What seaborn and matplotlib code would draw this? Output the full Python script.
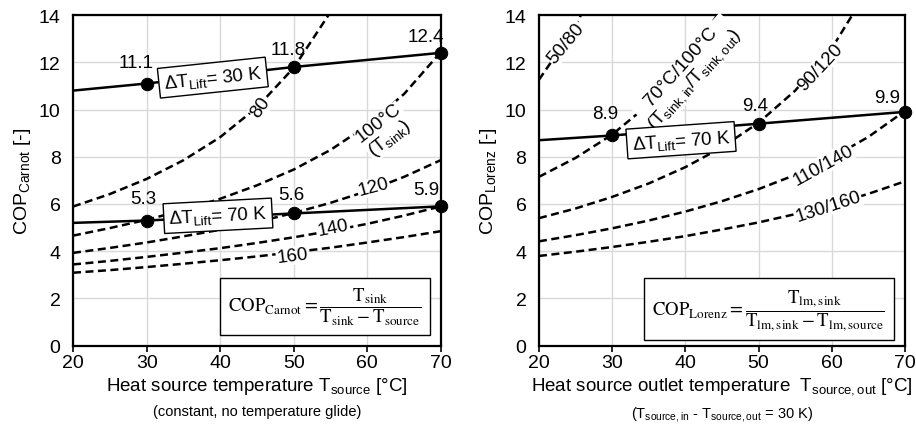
import matplotlib
matplotlib.use("Agg")
import matplotlib.pyplot as plt
import numpy as np
import pandas as pd
import seaborn as sns

# ---------------- data ----------------
x_grid = [20, 25, 30, 35, 40, 45, 50, 55, 60, 65, 70]

# Left panel: Carnot COP vs. heat source temperature, per sink temperature
carnot_80 = [5.89, 6.42, 7.06, 7.85, 8.83, 10.09, 11.77, 14.13]
carnot_100 = [4.66, 4.98, 5.33, 5.74, 6.22, 6.79, 7.46, 8.29, 9.33, 10.66, 12.44]
carnot_120 = [3.93, 4.14, 4.37, 4.63, 4.91, 5.24, 5.62, 6.05, 6.55, 7.15, 7.86]
carnot_140 = [3.44, 3.59, 3.76, 3.94, 4.13, 4.35, 4.59, 4.86, 5.16, 5.51, 5.90]
carnot_160 = [3.09, 3.20, 3.33, 3.47, 3.62, 3.78, 3.96, 4.15, 4.37, 4.60, 4.85]

lift_x = [20, 30, 50, 70]
carnot_lift30 = [10.8, 11.1, 11.8, 12.4]
carnot_lift70 = [5.2, 5.3, 5.6, 5.9]

# Right panel: Lorenz COP vs. heat source outlet temperature
lorenz_50_80 = [11.26, 13.51, 16.9]
lorenz_70_100 = [7.15, 7.95, 8.94, 10.22, 11.93, 14.31]
lorenz_90_120 = [5.40, 5.81, 6.30, 6.87, 7.56, 8.40, 9.44, 10.80, 12.59, 15.11]
lorenz_110_140 = [4.42, 4.68, 4.97, 5.30, 5.68, 6.12, 6.63, 7.23, 7.96, 8.84, 9.94]
lorenz_130_160 = [3.80, 3.98, 4.18, 4.40, 4.64, 4.92, 5.22, 5.57, 5.97, 6.43, 6.96]
lorenz_lift70 = [8.7, 8.9, 9.4, 9.9]

marker_x = [30, 50, 70]
carnot_marks30 = [11.1, 11.8, 12.4]
carnot_marks70 = [5.3, 5.6, 5.9]
lorenz_marks70 = [8.9, 9.4, 9.9]

x_ticks = [20, 30, 40, 50, 60, 70]
y_ticks = [0, 2, 4, 6, 8, 10, 12, 14]

# ---------------- style ----------------
sns.set_theme(style="white")
plt.rcParams["font.family"] = ["Liberation Sans", "DejaVu Sans"]
plt.rcParams["mathtext.fontset"] = "custom"
plt.rcParams["mathtext.rm"] = "Liberation Sans"
plt.rcParams["mathtext.it"] = "Liberation Sans:italic"
plt.rcParams["mathtext.bf"] = "Liberation Sans:bold"
for key in ["text.color", "axes.labelcolor", "xtick.color", "ytick.color"]:
    plt.rcParams[key] = "black"

fig = plt.figure(figsize=(9.16, 4.27), dpi=100)
axL = fig.add_axes([0.0797, 0.188, 0.4017, 0.7745])
axR = fig.add_axes([0.5884, 0.188, 0.3996, 0.7745])


def curves_df(curves):
    rows = []
    for name, ys in curves.items():
        for xv, yv in zip(x_grid, ys):
            rows.append({"x": xv, "y": yv, "curve": name})
    return pd.DataFrame(rows)


def style_axes(ax):
    ax.set_xlim(20, 70)
    ax.set_ylim(0, 14)
    ax.set_xticks(x_ticks)
    ax.set_yticks(y_ticks)
    ax.grid(True, color="#d9d9d9", linewidth=1.0)
    ax.set_axisbelow(True)
    for s in ax.spines.values():
        s.set_color("black")
        s.set_linewidth(1.6)
    ax.tick_params(axis="x", which="both", direction="out", length=4, width=1.2,
                   color="black", labelcolor="black", labelsize=14, pad=2, bottom=True)
    ax.tick_params(axis="y", length=0, labelsize=14, pad=9, labelcolor="black")


dash_kw = dict(color="black", linewidth=1.8, dashes=(3.2, 1.8))
lbl = dict(fontsize=13.5, ha="center", va="center")
clbl = dict(fontsize=13.5, ha="center", va="center")
wbox = dict(facecolor="white", edgecolor="none", pad=0.5)
lift_box = dict(facecolor="white", edgecolor="black", linewidth=1.0, pad=3.5)
form_box = dict(facecolor="white", edgecolor="black", linewidth=1.0, pad=6)

# ---------------- left panel ----------------
dfL = curves_df({"80": carnot_80, "100": carnot_100, "120": carnot_120,
                 "140": carnot_140, "160": carnot_160})
for name, g in dfL.groupby("curve"):
    sns.lineplot(data=g, x="x", y="y", ax=axL, legend=False, zorder=2, **dash_kw)

sns.lineplot(x=lift_x, y=carnot_lift30, ax=axL, color="black", linewidth=1.8, zorder=3)
sns.lineplot(x=lift_x, y=carnot_lift70, ax=axL, color="black", linewidth=1.8, zorder=3)
sns.scatterplot(x=marker_x + marker_x, y=carnot_marks30 + carnot_marks70, ax=axL,
                color="black", s=80, edgecolor="black", zorder=5, clip_on=False)

style_axes(axL)
axL.set_xlabel("Heat source temperature T$_{\\mathrm{source}}$ [°C]", fontsize=13.5, labelpad=3)
axL.set_ylabel("COP$_{\\mathrm{Carnot}}$ [-]", fontsize=14, labelpad=4)
axL.text(0.5, -0.175, "(constant, no temperature glide)", transform=axL.transAxes,
         ha="center", va="top", fontsize=10.5)

axL.text(28.6, 12.0, "11.1", **lbl)
axL.text(49.2, 12.55, "11.8", **lbl)
axL.text(68.0, 13.1, "12.4", **lbl)
axL.text(29.6, 6.25, "5.3", **lbl)
axL.text(49.6, 6.4, "5.6", **lbl)
axL.text(68.0, 6.6, "5.9", **lbl)

axL.text(45.5, 10.1, "80", rotation=55, bbox=wbox, zorder=4, **clbl)
axL.text(62.4, 9.1, "100°C\n(T$_{\\mathrm{sink}}$)", rotation=38, bbox=wbox,
         zorder=4, linespacing=1.0, **clbl)
axL.text(60.8, 6.72, "120", rotation=15, bbox=wbox, zorder=4, **clbl)
axL.text(55.4, 5.0, "140", rotation=11, bbox=wbox, zorder=4, **clbl)
axL.text(49.8, 3.8, "160", rotation=7, bbox=wbox, zorder=4, **clbl)

axL.text(39.0, 11.35, "$\\Delta$T$_{\\mathrm{Lift}}$= 30 K", rotation=6, bbox=lift_box,
         zorder=6, **lbl)
axL.text(39.7, 5.5, "$\\Delta$T$_{\\mathrm{Lift}}$= 70 K", rotation=3, bbox=lift_box,
         zorder=6, **lbl)

axL.text(54.2, 1.66,
         r"$\mathrm{COP_{Carnot}} = \dfrac{\mathrm{T_{sink}}}{\mathrm{T_{sink}} - \mathrm{T_{source}}}$",
         math_fontfamily="stix", fontsize=13.5, ha="center", va="center", bbox=form_box, zorder=6)

# ---------------- right panel ----------------
dfR = curves_df({"50/80": lorenz_50_80, "70/100": lorenz_70_100, "90/120": lorenz_90_120,
                 "110/140": lorenz_110_140, "130/160": lorenz_130_160})
for name, g in dfR.groupby("curve"):
    sns.lineplot(data=g, x="x", y="y", ax=axR, legend=False, zorder=2, **dash_kw)

sns.lineplot(x=lift_x, y=lorenz_lift70, ax=axR, color="black", linewidth=1.8, zorder=3)
sns.scatterplot(x=marker_x, y=lorenz_marks70, ax=axR, color="black", s=80,
                edgecolor="black", zorder=5, clip_on=False)

style_axes(axR)
axR.set_xlabel("Heat source outlet temperature  T$_{\\mathrm{source,out}}$ [°C]", fontsize=13.5,
               labelpad=3)
axR.set_ylabel("COP$_{\\mathrm{Lorenz}}$ [-]", fontsize=14, labelpad=4)
axR.text(0.5, -0.175, "(T$_{\\mathrm{source,in}}$ - T$_{\\mathrm{source,out}}$ = 30 K)",
         transform=axR.transAxes, ha="center", va="top", fontsize=10.5)

axR.text(29.0, 9.85, "8.9", **lbl)
axR.text(49.5, 10.15, "9.4", **lbl)
axR.text(67.5, 10.5, "9.9", **lbl)

axR.text(23.7, 12.8, "50/80", rotation=50, bbox=wbox, zorder=4, **clbl)
axR.text(40.4, 11.55, "70°C/100°C\n(T$_{\\mathrm{sink,in}}$/T$_{\\mathrm{sink,out}}$)",
         rotation=48, bbox=wbox, zorder=4, linespacing=1.0, **clbl)
axR.text(58.4, 11.8, "90/120", rotation=47, bbox=wbox, zorder=4, **clbl)
axR.text(58.8, 7.65, "110/140", rotation=29, bbox=wbox, zorder=4, **clbl)
axR.text(59.5, 5.9, "130/160", rotation=18, bbox=wbox, zorder=4, **clbl)

axR.text(39.4, 8.7, "$\\Delta$T$_{\\mathrm{Lift}}$= 70 K", rotation=4, bbox=lift_box,
         zorder=6, **lbl)

axR.text(51.4, 1.55,
         r"$\mathrm{COP_{Lorenz}} = \dfrac{\mathrm{T_{lm,sink}}}{\mathrm{T_{lm,sink}} - \mathrm{T_{lm,source}}}$",
         math_fontfamily="stix", fontsize=13.5, ha="center", va="center", bbox=form_box, zorder=6)

fig.savefig("out.png", dpi=100)
